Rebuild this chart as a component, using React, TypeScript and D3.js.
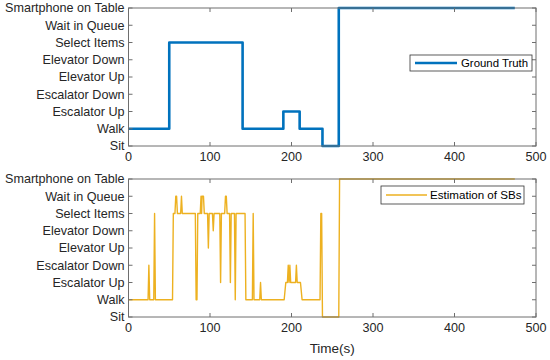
import React, { useEffect, useRef } from 'react';
import * as d3 from 'd3';

// activity states, bottom to top
const states = ['Sit', 'Walk', 'Escalator Up', 'Escalator Down', 'Elevator Up', 'Elevator Down', 'Select Items', 'Wait in Queue', 'Smartphone on Table'];
const xTicks = [0, 100, 200, 300, 400, 500];

// ground truth: [time, state index]
const truthT = [0, 50, 50, 140, 140, 190, 190, 210, 210, 238, 238, 258, 258, 474];
const truthS = [1, 1, 6, 6, 1, 1, 2, 2, 1, 1, 0, 0, 8, 8];

// estimation of SBs: [time, state index]
const estT = [0, 24, 25, 26, 31, 32, 33, 54, 55, 57, 58, 59, 60, 64, 65, 66, 82, 83, 84, 85, 88, 89, 89.7, 90.3, 91, 92, 93, 97, 98, 99, 103, 104, 105, 112, 113, 114, 118, 119, 120, 121, 124, 125, 126, 130, 131, 132, 143, 144, 152, 153, 154, 161, 162, 163, 191, 193, 195, 196, 197, 198, 199, 205, 206, 207, 211, 213, 235, 236, 237, 238, 258, 259, 474];
const estS = [1, 1, 3, 1, 1, 6, 1, 1, 6, 6, 7, 7, 6, 6, 7, 6, 6, 1, 1, 6, 6, 7, 6, 7, 7, 7, 6, 6, 4, 6, 6, 5, 6, 6, 2, 6, 6, 7, 7, 6, 6, 2, 6, 6, 1, 6, 6, 1, 1, 6, 1, 1, 2, 1, 1, 2, 2, 3, 2, 3, 2, 2, 3, 2, 2, 1, 1, 6, 6, 0, 0, 8, 8];

const font = '"Liberation Sans", Arial, sans-serif';
const textColor = '#262626';
const axisColor = '#6e6e6e';

export default function App() {
  const ref = useRef<SVGSVGElement>(null);

  useEffect(() => {
    const svg = d3.select(ref.current);
    svg.selectAll('*').remove();

    const left = 128.5, right = 536;
    const panels = [
      { top: 8, bottom: 146, t: truthT, s: truthS, color: '#0072BD', width: 2.6, label: 'Ground Truth', fs: 11.4, lg: { x: 410, y: 55, w: 122, h: 16, l1: 415, l2: 457, tx: 461 } },
      { top: 179, bottom: 317, t: estT, s: estS, color: '#EDB120', width: 1.4, label: 'Estimation of SBs', fs: 11.6, lg: { x: 381, y: 186, w: 143, h: 18, l1: 386, l2: 427, tx: 430 } },
    ];

    const x = d3.scaleLinear().domain([0, 500]).range([left, right]);

    panels.forEach(p => {
      const y = d3.scaleLinear().domain([0, 8]).range([p.bottom, p.top]);
      const g = svg.append('g');

      // data line
      const pts = p.t.map((t, i) => [t, p.s[i]] as [number, number]);
      const line = d3.line<[number, number]>().x(d => x(d[0])).y(d => y(d[1]));
      g.append('path').attr('d', line(pts)).attr('fill', 'none')
        .attr('stroke', p.color).attr('stroke-width', p.width).attr('stroke-linejoin', 'round');

      // frame
      g.append('rect').attr('x', left).attr('y', p.top).attr('width', right - left).attr('height', p.bottom - p.top)
        .attr('fill', 'none').attr('stroke', axisColor).attr('stroke-width', 1);

      // y ticks both sides
      const tk = 4;
      d3.range(9).forEach(i => {
        const yy = y(i);
        g.append('line').attr('x1', left).attr('x2', left + tk).attr('y1', yy).attr('y2', yy).attr('stroke', axisColor);
        g.append('line').attr('x1', right).attr('x2', right - tk).attr('y1', yy).attr('y2', yy).attr('stroke', axisColor);
        g.append('text').attr('x', left - 4).attr('y', yy).attr('dy', '0.35em').attr('text-anchor', 'end')
          .attr('font-family', font).attr('font-size', 12.6).attr('fill', textColor).text(states[i]);
      });

      // x ticks top and bottom
      xTicks.forEach(v => {
        const xx = x(v);
        g.append('line').attr('x1', xx).attr('x2', xx).attr('y1', p.bottom).attr('y2', p.bottom - tk).attr('stroke', axisColor);
        g.append('line').attr('x1', xx).attr('x2', xx).attr('y1', p.top).attr('y2', p.top + tk).attr('stroke', axisColor);
        g.append('text').attr('x', xx).attr('y', p.bottom + 11).attr('dy', '0.35em').attr('text-anchor', 'middle')
          .attr('font-family', font).attr('font-size', 12.6).attr('fill', textColor).text(v);
      });

      // legend
      const lg = p.lg;
      g.append('rect').attr('x', lg.x).attr('y', lg.y).attr('width', lg.w).attr('height', lg.h)
        .attr('fill', 'white').attr('stroke', '#333').attr('stroke-width', 0.8);
      g.append('line').attr('x1', lg.l1).attr('x2', lg.l2).attr('y1', lg.y + lg.h / 2).attr('y2', lg.y + lg.h / 2)
        .attr('stroke', p.color).attr('stroke-width', p.width);
      g.append('text').attr('x', lg.tx).attr('y', lg.y + lg.h / 2).attr('dy', '0.35em')
        .attr('font-family', font).attr('font-size', p.fs).attr('fill', '#000').text(p.label);
    });

    svg.append('text').attr('x', (left + right) / 2).attr('y', 348).attr('dy', '0.35em').attr('text-anchor', 'middle')
      .attr('font-family', font).attr('font-size', 13.5).attr('fill', textColor).text('Time(s)');
  }, []);

  return (
    <svg ref={ref} width={550} height={360} style={{ position: 'absolute', left: 0, top: 0, background: 'white' }} />
  );
}
